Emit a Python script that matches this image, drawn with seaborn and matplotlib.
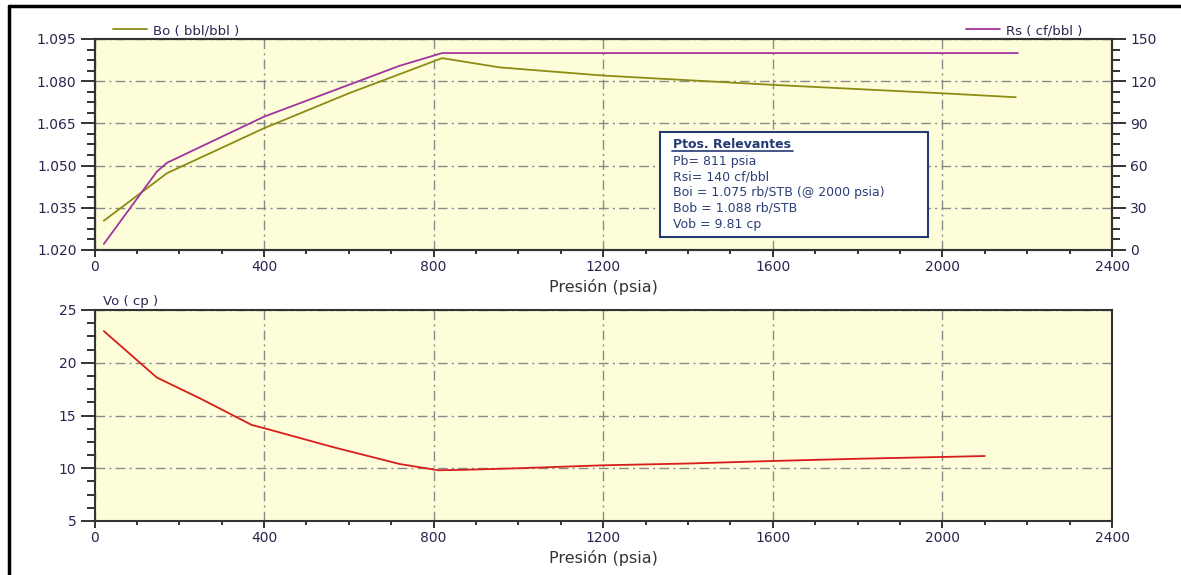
import numpy as np
import pandas as pd
import matplotlib
matplotlib.use('Agg')
import matplotlib.pyplot as plt
from matplotlib.lines import Line2D
from matplotlib.patches import Rectangle
from matplotlib.ticker import MultipleLocator, FormatStrFormatter
import seaborn as sns

# Datos PVT (presion en psia)
p_bo = [22, 171, 400, 600, 820, 956, 1200, 1600, 2000, 2173]
bo = [1.0304, 1.0473, 1.0633, 1.0757, 1.0882, 1.0849, 1.0820, 1.0787, 1.0757, 1.0743]

p_rs = [22, 147, 171, 400, 720, 820, 2178]
rs = [4.3, 55.7, 62.0, 94.8, 131.0, 140.0, 140.0]

p_vo = [22, 147, 250, 371, 400, 563, 720, 811, 870, 1000, 1200, 1400, 1600, 1800, 2000, 2100]
vo = [23.0, 18.6, 16.6, 14.1, 13.8, 12.0, 10.4, 9.81, 9.85, 10.0, 10.28, 10.45, 10.69, 10.9, 11.07, 11.16]

info_lines = ['Pb= 811 psia', 'Rsi= 140 cf/bbl', 'Boi = 1.075 rb/STB (@ 2000 psia)',
              'Bob = 1.088 rb/STB', 'Vob = 9.81 cp']

sns.set_theme(style='ticks')
plt.rcParams['font.family'] = ['DejaVu Sans']

W, H = 1181, 575
fig = plt.figure(figsize=(W / 100, H / 100), dpi=100)

bg = '#fefdd9'
txt = '#26264f'
grid_kw = dict(color='#8a8a8a', linestyle=(0, (7, 3, 1.5, 3)), linewidth=1.0)


def fx(px):
    return px / W


def fy(py):
    return 1 - py / H


ax = fig.add_axes([fx(94.5), fy(250), fx(1112 - 94.5), (250 - 39) / H])
ax2 = ax.twinx()
axb = fig.add_axes([fx(94.5), fy(521), fx(1112 - 94.5), (521 - 310) / H])

df_bo = pd.DataFrame({'p': p_bo, 'bo': bo})
df_rs = pd.DataFrame({'p': p_rs, 'rs': rs})
df_vo = pd.DataFrame({'p': p_vo, 'vo': vo})

sns.lineplot(data=df_bo, x='p', y='bo', ax=ax, color='#8c8c14', lw=1.3,
             sort=False, label='Bo ( bbl/bbl )', legend=False)
sns.lineplot(data=df_rs, x='p', y='rs', ax=ax2, color='#a0349f', lw=1.3,
             sort=False, label='Rs ( cf/bbl )', legend=False)
sns.lineplot(data=df_vo, x='p', y='vo', ax=axb, color='#d91c1c', lw=1.3,
             sort=False, legend=False)

for a in (ax, axb):
    a.set_facecolor(bg)
    a.set_xlim(0, 2400)
    a.xaxis.set_major_locator(MultipleLocator(400))
    a.xaxis.set_minor_locator(MultipleLocator(100))
    a.grid(True, which='major', **grid_kw)
    a.set_xlabel('Presión (psia)', fontsize=11.5, color='#333333', labelpad=4)
    a.set_ylabel('')
    a.tick_params(axis='x', which='major', length=5, width=1.4, color='#333333',
                  labelsize=10, labelcolor=txt, pad=2)
    a.tick_params(axis='x', which='minor', length=3, width=1.4, color='#333333')
    a.tick_params(axis='y', which='major', length=10, width=1.4, color='#333333',
                  labelsize=10, labelcolor=txt, pad=3)
    a.tick_params(axis='y', which='minor', length=6, width=1.4, color='#333333')
    for s in a.spines.values():
        s.set_color('#333333')
        s.set_linewidth(1.5)
        s.set_visible(True)

ax.set_ylim(1.020, 1.095)
ax.yaxis.set_major_locator(MultipleLocator(0.015))
ax.yaxis.set_minor_locator(MultipleLocator(0.00375))
ax.yaxis.set_major_formatter(FormatStrFormatter('%.3f'))

ax2.set_ylim(0, 150)
ax2.yaxis.set_major_locator(MultipleLocator(30))
ax2.yaxis.set_minor_locator(MultipleLocator(7.5))
ax2.set_ylabel('')
ax2.tick_params(axis='y', which='major', length=10, width=1.4, color='#333333',
                labelsize=10, labelcolor=txt, pad=3)
ax2.tick_params(axis='y', which='minor', length=6, width=1.4, color='#333333')
for s in ax2.spines.values():
    s.set_color('#333333')
    s.set_linewidth(1.5)

axb.set_ylim(5, 25)
axb.yaxis.set_major_locator(MultipleLocator(5))
axb.yaxis.set_minor_locator(MultipleLocator(1.25))

# leyendas arriba de la grafica superior
ax.legend(loc='lower left', bbox_to_anchor=(fx(113), fy(37)),
          bbox_transform=fig.transFigure, frameon=False, fontsize=9.5,
          handlelength=2.6, handletextpad=0.4, borderpad=0, borderaxespad=0,
          labelcolor=txt)
ax2.legend(loc='lower left', bbox_to_anchor=(fx(966), fy(37)),
           bbox_transform=fig.transFigure, frameon=False, fontsize=9.5,
           handlelength=2.6, handletextpad=0.4, borderpad=0, borderaxespad=0,
           labelcolor=txt)

fig.text(fx(103), fy(301), 'Vo ( cp )', fontsize=9.5, color=txt, va='center')

# cuadro de puntos relevantes
box_c = '#233a72'
fig.add_artist(Rectangle((fx(660), fy(237)), fx(928 - 660), (237 - 132) / H,
                         transform=fig.transFigure, facecolor='white',
                         edgecolor=box_c, lw=1.5, zorder=5))
fig.text(fx(673), fy(145), 'Ptos. Relevantes', fontsize=9, fontweight='bold',
         color=box_c, va='center', zorder=6)
fig.add_artist(Line2D([fx(672), fx(793)], [fy(151), fy(151)], color=box_c,
                      lw=1.2, zorder=6))
for i, line in enumerate(info_lines):
    fig.text(fx(673), fy(161 + i * 15.8), line, fontsize=9, color='#2c3e78',
             va='center', zorder=6)

# marco de la imagen
fig.add_artist(Line2D([fx(9), fx(9)], [0, fy(6)], color='black', lw=2.5))
fig.add_artist(Line2D([fx(9), 1], [fy(6), fy(6)], color='black', lw=2.5))

fig.savefig('out.png', dpi=100, facecolor='white')
